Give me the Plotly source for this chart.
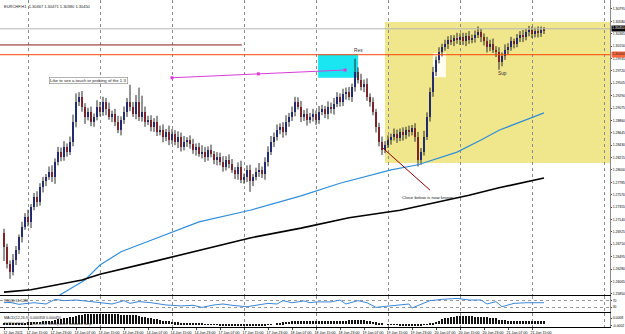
import plotly.graph_objects as go

# ---------------- data (prices in pips above 1.2500) ----------------
BASE = 1.25
PIP = 0.0001

first_open = 190
closes = [
    167, 137, 123, 144, 161, 184,
    201, 219, 210, 236, 253, 245, 271,
    280, 288, 297, 288, 314, 332, 323,
    340, 332, 349, 384, 418,
    427, 410, 392, 401, 384,
    392, 410, 401, 418, 405, 392,
    398, 384, 370, 387, 401, 418,
    410, 398, 418, 392, 401, 384, 387,
    375, 384, 366, 370, 358, 366, 352,
    363, 349, 358, 340, 349, 352, 345,
    335, 340, 328, 332, 323, 335, 328,
    318, 323, 314, 306, 318, 311, 300,
    293, 306, 283, 288, 300, 280,
    288, 297, 300, 293, 314, 332,
    349, 358, 370, 375, 366, 384, 392,
    401, 418, 410, 392, 398, 387,
    392, 398, 387, 401, 405, 398, 410,
    405, 415, 427, 418, 432, 436,
    427, 444, 470,
    457, 444, 450, 427, 418, 401,
    375, 349, 335, 344,
    352, 358, 363, 356, 366, 361, 370, 366, 372,
    358, 318, 332,
    358, 392, 436, 470, 491,
    505, 514, 519, 526, 523,
    529, 526, 531, 523, 533, 526, 529, 535,
    540, 531, 523, 514,
    519, 509, 505, 488, 497, 509,
    514, 523, 519, 529, 535, 531,
    540, 543, 536, 542, 538, 543, 542,
]
upper_wick = [
    8, 5, 6, 10, 7, 4, 9, 6, 12, 5,
    7, 10, 6, 8, 5, 9, 11, 6, 8, 7,
    10, 6, 9, 12, 15, 8, 10, 6, 7, 9,
    6, 11, 8, 9, 7, 12, 5, 8, 10, 6,
    9, 7, 30, 8, 12, 25, 28, 9, 7, 8,
    6, 10, 7, 9, 5, 11, 8, 6, 9, 7,
    10, 5, 8, 9, 6, 7, 11, 8, 6, 9,
    5, 8, 7, 10, 6, 9, 8, 5, 7, 10,
    6, 8, 9, 5, 7, 12, 6, 8, 9, 10,
    7, 9, 6, 8, 11, 7, 9, 9, 8, 10,
    6, 9, 7, 8, 5, 10, 8, 6, 9, 7,
    10, 8, 6, 9, 7, 8, 6, 23, 8, 10,
    7, 9, 6, 8, 5, 7, 9, 6, 8, 5,
    9, 7, 6, 8, 5, 7, 6, 9, 8, 6,
    10, 8, 7, 9, 6, 8, 5, 7, 6, 8,
    5, 9, 6, 7, 5, 8, 6, 7, 9, 5,
    6, 8, 7, 9, 6, 8, 7, 9, 6, 8,
    5, 7, 6, 8, 5, 7, 6, 5, 7, 6,
    5,
]
lower_wick = [
    25, 8, 12, 6, 9, 7, 10, 5, 8, 11,
    6, 9, 7, 10, 8, 5, 9, 12, 6, 8,
    7, 9, 6, 8, 10, 7, 9, 12, 6, 8,
    9, 6, 8, 7, 10, 5, 9, 8, 6, 10,
    7, 9, 8, 6, 10, 7, 8, 9, 6, 8,
    9, 7, 6, 10, 8, 9, 7, 6, 11, 8,
    6, 9, 8, 7, 10, 5, 8, 9, 7, 6,
    8, 10, 6, 9, 7, 8, 5, 9, 10, 6,
    7, 9, 18, 8, 6, 9, 7, 10, 8, 6,
    9, 7, 8, 10, 6, 9, 7, 8, 5, 9,
    7, 10, 6, 8, 9, 7, 6, 8, 10, 7,
    9, 6, 8, 7, 10, 6, 9, 8, 7, 6,
    9, 7, 8, 6, 10, 8, 9, 6, 6, 8,
    7, 9, 6, 10, 7, 8, 6, 9, 12, 9,
    7, 6, 8, 9, 7, 6, 8, 7, 9, 6,
    8, 7, 9, 6, 8, 7, 6, 8, 6, 9,
    7, 10, 8, 6, 9, 14, 8, 6, 9, 7,
    8, 6, 7, 9, 6, 8, 7, 6, 8, 7,
    6,
]

# moving averages (bar index, pips)
ma_blue_bars = [17, 27, 32, 39, 49, 65, 82, 99, 112, 129, 138, 145, 151, 159, 165, 172, 180]
ma_blue_pips = [78, 109, 135, 158, 178, 210, 230, 255, 277, 300, 309, 321, 331, 352, 369, 383, 399]
ma_black_bars = [0, 9, 26, 32, 49, 65, 82, 99, 115, 132, 142, 155, 165, 180]
ma_black_pips = [88, 92, 109, 119, 140, 161, 182, 199, 217, 230, 241, 256, 269, 286]

# RSI (bar index, value)
rsi_bars = [0, 2, 5, 10, 14, 17, 20, 24, 29, 32, 36, 40, 42, 45, 49, 54, 59, 63, 66, 70,
            73, 76, 81, 84, 88, 91, 93, 96, 100, 102, 104, 109, 112, 114, 118, 121, 124, 126,
            131, 135, 136, 139, 142, 146, 151, 155, 159, 161, 164, 166, 170, 174, 180]
rsi_vals = [58, 60, 48, 58, 50, 79, 71, 75, 65, 58, 50, 71, 54, 65, 58, 44, 38, 42, 29, 44,
            50, 42, 33, 42, 54, 50, 71, 58, 69, 58, 63, 63, 75, 50, 71, 58, 29, 33,
            42, 50, 25, 50, 71, 79, 85, 75, 75, 50, 65, 33, 54, 58, 58]

# MACD histogram (units of 0.00001)
macd_hist = [
    12, 10, 8, 9, 12, 15, 18, 20, 22, 25, 28, 30, 32, 35, 38, 42, 48,
    55, 62, 70, 78, 85, 92, 100, 110, 120, 128,
    132, 135, 138, 140, 142, 140, 138, 136, 135, 134, 132, 130, 128, 127, 125, 124, 122,
    118, 106, 100, 92, 85, 78, 70, 62, 55, 48, 42, 36,
    30, 26, 22, 18, 15, 12, 10, 8, 5, 3, 1, -2, -5, -8, -10, -12, -14, -15, -16, -17, -18, -18, -19, -20, -21, -22,
    -22, -23, -24, -22, -18, -14, -10, -5, 0, 8, 15, 22,
    28, 32, 36, 38, 40, 40, 41, 42, 42, 41, 40, 40, 39, 40, 42, 42, 42, 44, 45, 46, 48, 50, 54, 56,
    55, 52, 50, 45, 38, 30, 22, 14, 6, 0,
    -5, -8, -10, -12, -14, -15, -15, -16, -17, -18, -20, -18, -12, -5, 5,
    18, 32, 48, 62, 76, 88, 96,
    102, 106, 108, 110, 108, 106, 104, 102, 100, 98, 95, 92, 88, 84, 80,
    60, 55, 50, 48, 46, 45, 44, 43, 42, 40, 40, 39, 38, 38, 37, 36,
]

price_ticks = [1.30795, 1.30580, 1.30365, 1.30150, 1.29935, 1.29720, 1.29505, 1.29290,
               1.29075, 1.28860, 1.28645, 1.28430, 1.28215, 1.28000, 1.27785, 1.27570,
               1.27355, 1.27140, 1.26925, 1.26710, 1.26495, 1.26280, 1.26065, 1.25850]
date_labels = ["12 Jan 2011", "12 Jan 15:00", "12 Jan 23:00", "13 Jan 07:00", "13 Jan 15:00",
               "13 Jan 23:00", "14 Jan 07:00", "14 Jan 15:00", "14 Jan 23:00", "17 Jan 07:00",
               "17 Jan 15:00", "17 Jan 23:00", "18 Jan 07:00", "18 Jan 15:00", "18 Jan 23:00",
               "19 Jan 07:00", "19 Jan 15:00", "19 Jan 23:00", "20 Jan 07:00", "20 Jan 15:00",
               "20 Jan 23:00", "21 Jan 07:00", "21 Jan 15:00"]

# drawn objects (bar index, pips)
trend_bars = [56, 84.8, 113.7]
trend_pips = [460, 466.8, 473.5]
bid_pips = 545
level_pips = 500
old_level_pips = 517

# ---------------- build ----------------
def pr(v):
    return BASE + v * PIP

n = len(closes)
idx = list(range(n))
opens = [first_open] + closes[:-1]
highs = [max(o, c) + u for o, c, u in zip(opens, closes, upper_wick)]
lows = [min(o, c) - l for o, c, l in zip(opens, closes, lower_wick)]

XR = [-4 / 3, 202]
BLUE_C = "#1c2fb5"
RED_C = "#c8202a"
AXF = 3.4

fig = go.Figure()

wx, wy = [], []
for i in idx:
    wx += [i, i, None]
    wy += [pr(lows[i]), pr(highs[i]), None]
fig.add_trace(go.Scatter(x=wx, y=wy, mode="lines", line=dict(color="#2a2a2a", width=1),
                         xaxis="x", yaxis="y", hoverinfo="skip"))

body_base = [pr(min(o, c)) for o, c in zip(opens, closes)]
body_h = [max(abs(c - o), 0.7) * PIP for o, c in zip(opens, closes)]
body_col = [BLUE_C if c >= o else RED_C for o, c in zip(opens, closes)]
fig.add_trace(go.Bar(x=idx, y=body_h, base=body_base, width=0.68,
                     marker=dict(color=body_col, line=dict(width=0)), xaxis="x", yaxis="y"))

fig.add_trace(go.Scatter(x=ma_blue_bars, y=[pr(v) for v in ma_blue_pips], mode="lines",
                         line=dict(color="#2f8ed8", width=1.2), xaxis="x", yaxis="y"))
fig.add_trace(go.Scatter(x=ma_black_bars, y=[pr(v) for v in ma_black_pips], mode="lines",
                         line=dict(color="#000000", width=1.6), xaxis="x", yaxis="y"))
fig.add_trace(go.Scatter(x=trend_bars, y=[pr(v) for v in trend_pips], mode="lines+markers",
                         line=dict(color="#d83cd8", width=1),
                         marker=dict(symbol="square", size=3, color="#d83cd8"),
                         xaxis="x", yaxis="y"))

fig.add_trace(go.Scatter(x=rsi_bars, y=rsi_vals, mode="lines",
                         line=dict(color="#3b87d6", width=1), xaxis="x2", yaxis="y2"))

fig.add_trace(go.Bar(x=list(range(len(macd_hist))), y=[v * 1e-5 for v in macd_hist], width=0.4,
                     marker=dict(color="#111111", line=dict(width=0)), xaxis="x3", yaxis="y3"))

shapes = [
    dict(type="rect", xref="x", yref="y", x0=127, x1=203, y0=pr(312), y1=pr(557),
         fillcolor="#f0e68c", line=dict(width=0), layer="below"),
    dict(type="rect", xref="x", yref="y", x0=104.7, x1=118, y0=pr(460), y1=pr(501),
         fillcolor="#19e6f0", line=dict(width=0), layer="below"),
    dict(type="rect", xref="x", yref="y", x0=143, x1=147.3, y0=pr(461), y1=pr(503),
         fillcolor="#fffdf0", line=dict(width=0), layer="below"),
    dict(type="line", xref="x", yref="y", x0=-2, x1=203, y0=pr(bid_pips), y1=pr(bid_pips),
         line=dict(color="#b4b4b4", width=1)),
    dict(type="line", xref="x", yref="y", x0=-2, x1=203, y0=pr(level_pips), y1=pr(level_pips),
         line=dict(color="#ff4500", width=1)),
    dict(type="line", xref="x", yref="y", x0=-2, x1=79.3, y0=pr(old_level_pips), y1=pr(old_level_pips),
         line=dict(color="#8b1a1a", width=1)),
    dict(type="line", xref="x", yref="y", x0=126.3, x1=142, y0=pr(338), y1=pr(265),
         line=dict(color="#8b0000", width=1)),
]

annotations = [
    dict(xref="paper", yref="paper", x=0.003, y=1, xanchor="left", yanchor="top", yshift=-2,
         text="EURCHF,H1  1.30467 1.30471 1.30380 1.30450", showarrow=False,
         font=dict(size=4, color="#222")),
    dict(xref="x", yref="y", x=28.3, y=pr(456), text="Like to see a touch or probing of the 1.3",
         showarrow=False, bgcolor="white", bordercolor="#808080", borderwidth=0.6, borderpad=0.5,
         font=dict(size=4.3, color="#222")),
    dict(xref="x", yref="y", x=118, y=pr(508), text="Res", showarrow=False,
         font=dict(size=4.8, color="#333")),
    dict(xref="x", yref="y", x=166.3, y=pr(467), text="Sup", showarrow=False,
         font=dict(size=4.8, color="#333")),
    dict(xref="x", yref="y", x=141.3, y=pr(253), text="Close below is now known", showarrow=False,
         font=dict(size=4.4, color="#222")),
    dict(xref="paper", yref="y", x=1, y=pr(bid_pips), xanchor="left", xshift=0.5,
         text="1.30450", showarrow=False, bgcolor="black", borderpad=0.3,
         font=dict(size=AXF, color="white")),
    dict(xref="paper", yref="y", x=1, y=pr(level_pips), xanchor="left", xshift=0.5,
         text="1.30000", showarrow=False, bgcolor="#ff6a3d", borderpad=0.3,
         font=dict(size=AXF, color="#222")),
    dict(xref="paper", yref="y2 domain", x=0.003, y=1, xanchor="left", yanchor="top", yshift=-1,
         text="RSI(8) 61.5288", showarrow=False, font=dict(size=3.6, color="#222")),
    dict(xref="paper", yref="y3 domain", x=0.003, y=1, xanchor="left", yanchor="top", yshift=-1,
         text="MACD(12,26,9) 0.000358 0.000450", showarrow=False, font=dict(size=3.6, color="#222")),
    dict(xref="paper", yref="y3 domain", x=0.003, y=0.5, xanchor="left", yanchor="top",
         text="EURCHF,H1, \u00a9 2000-2010 MetaQuotes Software Corp.", showarrow=False,
         font=dict(size=3.6, color="#222")),
]

grid_bars = [8, 32, 56, 80, 104, 128, 152, 176, 200]
date_ticks = list(range(0, 8 * len(date_labels), 8))

xcommon = dict(range=XR, zeroline=False, showline=True, linecolor="black", linewidth=1,
               ticks="", showticklabels=False, fixedrange=True)

fig.update_layout(
    template="none",
    width=625, height=334,
    margin=dict(l=0, r=15, t=0, b=7),
    paper_bgcolor="white", plot_bgcolor="white",
    showlegend=False,
    font=dict(family="Liberation Sans, Arial, sans-serif", size=4, color="black"),
    xaxis=dict(domain=[0, 1], anchor="y", tickvals=grid_bars, showgrid=True,
               gridcolor="#8c8c8c", griddash="dot", gridwidth=1, **xcommon),
    yaxis=dict(domain=[0.0979, 1], anchor="x", range=[pr(83), pr(595)], side="right",
               tickvals=price_ticks, tickformat=".5f", ticks="outside", ticklen=1,
               tickcolor="#444", tickfont=dict(size=AXF), ticklabelstandoff=0,
               showgrid=False, zeroline=False,
               showline=True, linecolor="#8a8a8a", automargin=False),
    xaxis2=dict(domain=[0, 1], anchor="y2", tickvals=grid_bars, showgrid=True, mirror=True,
                gridcolor="#8c8c8c", griddash="dot", gridwidth=1, **xcommon),
    yaxis2=dict(domain=[0.04587, 0.0948], anchor="x2", range=[0, 100], side="right",
                tickvals=[70, 30], ticktext=["70", "30"], ticks="outside", ticklen=1,
                tickfont=dict(size=AXF), ticklabelstandoff=0,
                showgrid=True, gridcolor="#9a9a9a", griddash="dot",
                zeroline=False, showline=True, linecolor="#8a8a8a", automargin=False),
    xaxis3=dict(domain=[0, 1], anchor="y3", range=XR, tickvals=date_ticks, ticktext=date_labels,
                showticklabels=True, ticks="outside", ticklen=2, tickcolor="#444",
                tickfont=dict(size=3.6), ticklabelshift=9, ticklabelstandoff=0,
                showgrid=False, zeroline=False, showline=True, mirror=True, linecolor="black",
                minor=dict(tickmode="array", tickvals=grid_bars, showgrid=True,
                           gridcolor="#8c8c8c", griddash="dot", ticks=""),
                automargin=False),
    yaxis3=dict(domain=[0, 0.04281], anchor="x3", range=[-0.0004, 0.0015], side="right",
                tickvals=[0.0008, -0.0002], ticktext=["0.0008", "-0.0002"], ticks="outside",
                ticklen=1, tickfont=dict(size=AXF), ticklabelstandoff=0,
                showgrid=False, zeroline=False,
                showline=True, linecolor="#8a8a8a", automargin=False),
    shapes=shapes,
    annotations=annotations,
    bargap=0,
)

fig.write_html("out.html")
